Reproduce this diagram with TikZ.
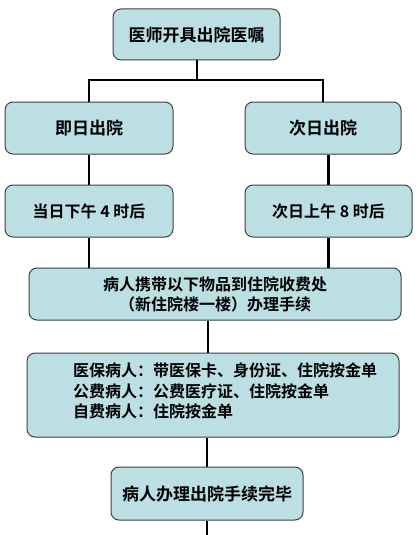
\documentclass[tikz,border=0pt]{standalone}
\usepackage{fontspec}
\setmainfont{Noto Sans CJK SC}[BoldFont={* Bold}]
\newfontfamily\cjkb{Noto Sans CJK SC Bold}
\definecolor{boxfill}{HTML}{BCDFE3}
\definecolor{boxline}{HTML}{404040}
\begin{document}
\begin{tikzpicture}[x=1pt,y=-1pt,
  box/.style={draw=boxline, line width=1pt, fill=boxfill, rounded corners=8pt,
    inner sep=0pt, align=center, font=\cjkb\fontsize{16}{20}\selectfont},
  big/.style={font=\cjkb\fontsize{17}{20}\selectfont},
  conn/.style={line width=2.2pt, black}]
\useasboundingbox (0,0) rectangle (419,535);
\fill[white] (0,0) rectangle (419,535);
\node[box, big, minimum width=167, minimum height=51] (top) at (196.5,34.5) {医师开具出院医嘱};
\node[box, big, minimum width=168, minimum height=52] (l1) at (89,128) {即日出院};
\node[box, big, minimum width=156, minimum height=52] (r1) at (323,128) {次日出院};
\node[box, minimum width=168, minimum height=52] (l2) at (89,211) {当日下午 4 时后};
\node[box, minimum width=167, minimum height=52] (r2) at (328.5,211) {次日上午 8 时后};
\node[box, minimum width=372, minimum height=52] (wide) at (215,294) {病人携带以下物品到住院收费处\\（新住院楼一楼）办理手续};
\node[box, minimum width=372, minimum height=84] (b4) at (213,395) {};
\node[anchor=west, inner sep=0pt, align=left, font=\cjkb\fontsize{16}{20.5}\selectfont] (b4t) at (73,391)
  {医保病人：带医保卡、身份证、住院按金单\\公费病人：公费医疗证、住院按金单\\自费病人：住院按金单};
\node[box, big, minimum width=192, minimum height=53] (b5) at (207,493.5) {病人办理出院手续完毕};
\coordinate (split) at (197,80);
\coordinate (endpt) at (207,535);
\draw[conn] (top.south -| split) -- (split);
\draw[conn] (l1.north) -- (l1.north |- split) -- (r1.north |- split) -- (r1.north);
\draw[conn] (l1.south) -- (l2.north);
\draw[conn] (r2.north |- r1.south) -- (r2.north);
\draw[conn] (l2.south) -- (l2.south |- wide.north);
\draw[conn] (r2.south) -- (r2.south |- wide.north);
\draw[conn] (wide.south -| 208,0) -- (b4.north -| 208,0);
\draw[conn] (b4.south -| b5.north) -- (b5.north);
\draw[conn] (b5.south) -- (endpt);
\end{tikzpicture}
\end{document}
